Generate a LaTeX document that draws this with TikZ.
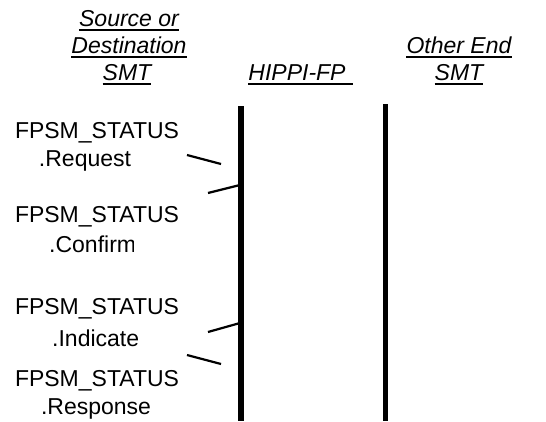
\documentclass[tikz,border=0pt]{standalone}
\usepackage{fontspec}
\setmainfont{Liberation Sans}
\begin{document}
\begin{tikzpicture}[x=1pt,y=-1pt,
  lbl/.style={inner sep=0pt,anchor=base,font=\fontsize{23}{27}\selectfont},
  hdr/.style={lbl,font=\fontsize{23}{27}\selectfont\itshape},
  life/.style={line width=5.5pt},
  tick/.style={line width=2.2pt},
  uln/.style={line width=1.3pt}]
\useasboundingbox (0,0) rectangle (546,421);
% headers
\node[hdr] (s1) at (129,26) {Source or};
\node[hdr] (s2) at (129,53) {Destination};
\node[hdr] (s3) at (127,80) {SMT};
\node[hdr] (h1) at (297,80) {HIPPI-FP};
\node[hdr] (o1) at (459,53) {Other End};
\node[hdr] (o2) at (459,80) {SMT};
\foreach \n in {s1,s2,s3,o1,o2}{
  \draw[uln] ([yshift=-4]\n.base west) -- ([yshift=-4]\n.base east);
}
\draw[uln] ([yshift=-4]h1.base west) -- ([xshift=7,yshift=-4]h1.base east);
% lifelines
\coordinate (l1t) at (241,106); \coordinate (l1b) at (241,421);
\coordinate (l2t) at (385.5,104); \coordinate (l2b) at (385.5,421);
\draw[life] (l1t) -- (l1b);
\draw[life] (l2t) -- (l2b);
% labels
\node[lbl] (f1) at (97,138) {FPSM\_STATUS};
\node[lbl] (r1) at (85,166) {.Request};
\node[lbl] (f2) at (97,222) {FPSM\_STATUS};
\begin{scope}
\clip (0,225) rectangle (133,265);
\node[lbl,anchor=base west] (r2) at (49,252) {.Confirm};
\end{scope}
\node[lbl] (f3) at (97,314) {FPSM\_STATUS};
\begin{scope}
\clip (0,320) rectangle (137,360);
\node[lbl,anchor=base west] (r3) at (52,346) {.Indicate};
\end{scope}
\node[lbl] (f4) at (97,386) {FPSM\_STATUS};
\node[lbl] (r4) at (96,414) {.Response};
% ticks
\coordinate (a1) at (187,155); \coordinate (a2) at (221,164);
\coordinate (b1) at (208,193); \coordinate (b2) at (240,185);
\coordinate (c1) at (208,332); \coordinate (c2) at (240,323);
\coordinate (d1) at (187,355); \coordinate (d2) at (221,364);
\draw[tick] (a1) -- (a2);
\draw[tick] (b1) -- (b2);
\draw[tick] (c1) -- (c2);
\draw[tick] (d1) -- (d2);
\end{tikzpicture}
\end{document}
